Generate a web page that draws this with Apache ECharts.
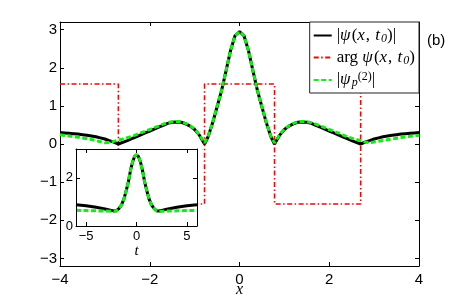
<!DOCTYPE html>
<html>
<head>
<meta charset="utf-8">
<script src="https://cdn.jsdelivr.net/npm/echarts@6/dist/echarts.min.js"></script>
<style>html,body{margin:0;padding:0;background:#fff}#c{width:463px;height:299px}</style>
</head>
<body>
<div id="c"></div>
<script>
// ---- data ----
const mainX = [-4.0,-3.9,-3.8,-3.7,-3.6,-3.5,-3.4,-3.3,-3.2,-3.1,-3.0,-2.9,-2.8,-2.7,-2.6,-2.5,-2.4,-2.3,-2.2,-2.1,-2.0,-1.9,-1.8,-1.7,-1.6,-1.5,-1.4,-1.3,-1.2,-1.1,-1.0,-0.9,-0.78,-0.7,-0.6,-0.5,-0.4,-0.3,-0.2,-0.1,0,0.1,0.2,0.3,0.4,0.5,0.6,0.7,0.78,0.9,1.0,1.1,1.2,1.3,1.4,1.5,1.6,1.7,1.8,1.9,2.0,2.1,2.2,2.3,2.4,2.5,2.6,2.7,2.8,2.9,3.0,3.1,3.2,3.3,3.4,3.5,3.6,3.7,3.8,3.9,4.0];
const absPsi = [0.30,0.29,0.28,0.27,0.26,0.245,0.23,0.21,0.19,0.16,0.13,0.09,0.05,0.0,0.045,0.09,0.14,0.19,0.24,0.29,0.34,0.39,0.44,0.49,0.54,0.57,0.58,0.57,0.53,0.47,0.38,0.24,0.0,0.19,0.55,0.97,1.40,1.92,2.45,2.84,2.95,2.84,2.45,1.92,1.40,0.97,0.55,0.19,0.0,0.24,0.38,0.47,0.53,0.57,0.58,0.57,0.54,0.49,0.44,0.39,0.34,0.29,0.24,0.19,0.14,0.09,0.045,0.0,0.05,0.09,0.13,0.16,0.19,0.21,0.23,0.245,0.26,0.27,0.28,0.29,0.30];
const psiP2 = [0.24,0.225,0.21,0.195,0.18,0.16,0.14,0.12,0.09,0.06,0.03,0.04,0.07,0.10,0.13,0.165,0.20,0.245,0.29,0.335,0.38,0.43,0.47,0.52,0.56,0.585,0.59,0.58,0.54,0.48,0.39,0.25,0.03,0.20,0.56,0.98,1.40,1.92,2.45,2.84,2.95,2.84,2.45,1.92,1.40,0.98,0.56,0.20,0.03,0.25,0.39,0.48,0.54,0.58,0.59,0.585,0.56,0.52,0.47,0.43,0.38,0.335,0.29,0.24,0.19,0.15,0.12,0.09,0.05,0.035,0.05,0.07,0.09,0.11,0.13,0.15,0.17,0.185,0.20,0.215,0.23];
const argX = [-4.0,-2.7,-2.7,-0.78,-0.78,0.78,0.78,2.7,2.7,4.0];
const argY = [1.571,1.571,-1.571,-1.571,1.571,1.571,-1.571,-1.571,1.571,1.571];
const insetT = [-6,-5.5,-5,-4.5,-4,-3.5,-3,-2.5,-2.2,-2,-1.75,-1.5,-1.25,-1,-0.8,-0.6,-0.4,-0.2,0,0.2,0.4,0.6,0.8,1,1.25,1.5,1.75,2,2.2,2.5,3,3.5,4,4.5,5,5.5,6];
const insetAbs = [0.88,0.86,0.84,0.81,0.78,0.74,0.70,0.65,0.62,0.63,0.72,0.87,1.12,1.5,1.85,2.3,2.65,2.88,2.96,2.88,2.65,2.3,1.85,1.5,1.12,0.87,0.72,0.63,0.62,0.65,0.70,0.74,0.78,0.81,0.84,0.86,0.88];
const insetP2 = [0.65,0.645,0.64,0.635,0.63,0.625,0.62,0.61,0.60,0.62,0.72,0.87,1.12,1.5,1.85,2.3,2.65,2.88,2.96,2.88,2.65,2.3,1.85,1.5,1.12,0.87,0.72,0.62,0.60,0.61,0.62,0.625,0.63,0.635,0.64,0.645,0.65];
const mainXTicks = [-4,-2,0,2,4];
const mainYTicks = [-3,-2,-1,0,1,2,3];
const insetXTicks = [-5,0,5];
const insetYTicks = [0,2];
const names = ['|ψ(x, t0)|','arg ψ(x, t0)','|ψp(2)|'];

const zip = (a,b) => a.map((v,i)=>[v,b[i]]);
const fmt = v => String(v).replace('-', '\u2212');
const SANS = 'Liberation Sans, Arial, sans-serif';
const SERIF = 'Liberation Serif, Times New Roman, serif';

function frameAxis(gridIndex, pos, min, max, ticks, showLabels, fontSize, margin, extra) {
  return Object.assign({
    type: 'value', gridIndex, position: pos, min, max,
    axisLine: {show: true, onZero: false, lineStyle: {color: '#000', width: 1}},
    axisTick: {show: true, inside: true, length: 4, customValues: ticks, lineStyle: {color: '#000'}},
    axisLabel: {show: showLabels, customValues: ticks, formatter: fmt, color: '#000', fontFamily: SANS, fontSize, margin},
    splitLine: {show: false}
  }, extra || {});
}

const chart = echarts.init(document.getElementById('c'), null, {renderer: 'canvas'});
const richBase = {fontFamily: SERIF, fontSize: 17, color: '#000', lineHeight: 18};
chart.setOption({
  animation: false,
  backgroundColor: '#fff',
  grid: [
    {left: 60, top: 22, width: 359, height: 244, show: false, outerBoundsMode: 'none', containLabel: false},
    {left: 76, top: 149, width: 121, height: 77, show: true, backgroundColor: '#fff', borderWidth: 0, z: 5, outerBoundsMode: 'none', containLabel: false}
  ],
  xAxis: [
    frameAxis(0, 'bottom', -4, 4, mainXTicks, true, 15, 6, {name: 'x', nameLocation: 'middle', nameGap: 24, nameMoveOverlap: false, nameTextStyle: {fontFamily: SERIF, fontStyle: 'italic', fontSize: 16, color: '#000', verticalAlign: 'middle'}}),
    frameAxis(0, 'top', -4, 4, mainXTicks, false, 15, 6),
    frameAxis(1, 'bottom', -6, 6, insetXTicks, true, 13, 4, {z: 7, name: 't', nameLocation: 'middle', nameGap: 14, nameTextStyle: {fontFamily: SERIF, fontStyle: 'italic', fontSize: 15, color: '#000'}}),
    frameAxis(1, 'top', -6, 6, insetXTicks, false, 13, 4, {z: 7})
  ],
  yAxis: [
    frameAxis(0, 'left', -3.2, 3.2, mainYTicks, true, 15, 3),
    frameAxis(0, 'right', -3.2, 3.2, mainYTicks, false, 15, 3),
    frameAxis(1, 'left', 0, 3.2, insetYTicks, true, 13, 3, {z: 7}),
    frameAxis(1, 'right', 0, 3.2, insetYTicks, false, 13, 3, {z: 7})
  ],
  legend: {
    orient: 'vertical', right: 44, top: 22,
    padding: [5, 4, 4, 3], itemGap: 4.5, itemWidth: 18, itemHeight: 14,
    backgroundColor: '#fff', borderColor: '#222', borderWidth: 1, borderRadius: 0,
    itemStyle: {color: 'transparent', borderWidth: 0, opacity: 0},
    z: 10,
    data: names,
    formatter: function (n) {
      if (n === names[0]) return '{n||}{i|ψ}{n|(}{i|x}{c|, }{i|t}{s|0}{n|)|}';
      if (n === names[1]) return '{n|arg }{i|ψ}{n|(}{i|x}{c|, }{i|t}{s|0}{n|)}';
      return '{n||}{i|ψ}{s|p}{u|(2)}{n||}';
    },
    textStyle: {
      rich: {
        n: Object.assign({}, richBase),
        c: Object.assign({}, richBase, {padding: [0, 1, 0, 0]}),
        i: Object.assign({}, richBase, {fontStyle: 'italic', padding: [0, 1, 0, 0]}),
        s: {fontFamily: SERIF, fontSize: 12, fontStyle: 'italic', color: '#000', lineHeight: 12, verticalAlign: 'bottom'},
        u: {fontFamily: SERIF, fontSize: 12, color: '#000', lineHeight: 12, verticalAlign: 'top'}
      }
    }
  },
  graphic: [
    {type: 'text', left: 427, top: 33, z: 10, style: {text: '(b)', font: '15px Liberation Sans, Arial, sans-serif', fill: '#000'}}
  ],
  series: [
    {name: names[0], type: 'line', xAxisIndex: 0, yAxisIndex: 0, data: zip(mainX, absPsi), symbol: 'none', z: 2,
     lineStyle: {color: '#000', width: 3}, itemStyle: {color: '#000'}},
    {name: names[1], type: 'line', xAxisIndex: 0, yAxisIndex: 0, data: zip(argX, argY), symbol: 'none', z: 1,
     lineStyle: {color: '#ff0000', width: 1.5, type: [5, 2.5, 1.5, 2.5]}, itemStyle: {color: '#ff0000'}},
    {name: names[2], type: 'line', xAxisIndex: 0, yAxisIndex: 0, data: zip(mainX, psiP2), symbol: 'none', z: 3,
     lineStyle: {color: '#11ee11', width: 3, type: [5, 2.5]}, itemStyle: {color: '#11ee11'}},
    {name: 'inset1', type: 'line', xAxisIndex: 2, yAxisIndex: 2, data: zip(insetT, insetAbs), symbol: 'none', z: 6,
     lineStyle: {color: '#000', width: 3}},
    {name: 'inset2', type: 'line', xAxisIndex: 2, yAxisIndex: 2, data: zip(insetT, insetP2), symbol: 'none', z: 6,
     lineStyle: {color: '#11ee11', width: 3, type: [5, 2.5]}}
  ]
});
</script>
</body>
</html>
